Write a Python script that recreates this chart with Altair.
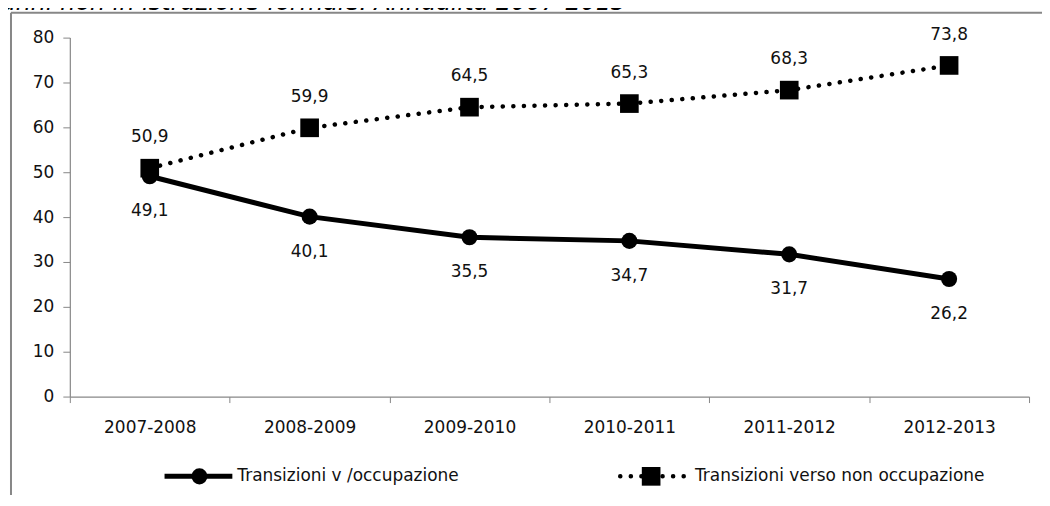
import altair as alt
import pandas as pd

periods = ["2007-2008", "2008-2009", "2009-2010", "2010-2011", "2011-2012", "2012-2013"]
occ = [49.1, 40.1, 35.5, 34.7, 31.7, 26.2]
occ_labels = ["49,1", "40,1", "35,5", "34,7", "31,7", "26,2"]
non_occ = [50.9, 59.9, 64.5, 65.3, 68.3, 73.8]
non_occ_labels = ["50,9", "59,9", "64,5", "65,3", "68,3", "73,8"]
series_names = ["Transizioni v /occupazione", "Transizioni verso non occupazione"]
title_text = ["anni non in istruzione formale. Annualità 2007-2013"]
y_ticks = [0, 10, 20, 30, 40, 50, 60, 70, 80]

FONT = "DejaVu Sans"
FS = 17
GRAY = "#878787"
TXT = "#111111"

df_occ = pd.DataFrame({"period": periods, "value": occ, "label": occ_labels})
df_non = pd.DataFrame({"period": periods, "value": non_occ, "label": non_occ_labels})
one = pd.DataFrame({"d": [0]})

x_enc = alt.X(
    "period:N", sort=periods,
    scale=alt.Scale(type="band", paddingInner=0, paddingOuter=0),
    axis=alt.Axis(title=None, labelAngle=0, tickBand="extent", tickSize=6,
                  tickColor=GRAY, domainColor=GRAY, domainWidth=1.2, labelPadding=17,
                  labelFont=FONT, labelFontSize=FS, labelColor=TXT),
)
y_enc = alt.Y(
    "value:Q", scale=alt.Scale(domain=[0, 80], nice=False, zero=True),
    axis=alt.Axis(title=None, values=y_ticks, grid=False, tickSize=7, tickColor=GRAY,
                  domainColor=GRAY, domainWidth=1.2, labelPadding=9, labelFont=FONT,
                  labelFontSize=FS, labelColor=TXT),
)

line_occ = alt.Chart(df_occ).mark_line(color="black", strokeWidth=5).encode(x=x_enc, y=y_enc)
pts_occ = alt.Chart(df_occ).mark_point(shape="circle", filled=True, color="black", size=260, opacity=1).encode(x=x_enc, y=y_enc)
lab_occ = alt.Chart(df_occ).mark_text(dy=35, font=FONT, fontSize=FS, color=TXT).encode(x=x_enc, y=y_enc, text="label:N")

line_non = alt.Chart(df_non).mark_line(color="black", strokeWidth=4.5, strokeDash=[0.1, 10.5], strokeCap="round").encode(x=x_enc, y=y_enc)
pts_non = alt.Chart(df_non).mark_point(shape="square", filled=True, color="black", size=350, opacity=1).encode(x=x_enc, y=y_enc)
lab_non = alt.Chart(df_non).mark_text(dy=-31, font=FONT, fontSize=FS, color=TXT).encode(x=x_enc, y=y_enc, text="label:N")

# legend (manual)
LY = 440
leg1_line = alt.Chart(one).mark_rule(color="black", strokeWidth=5).encode(x=alt.value(95), x2=alt.value(163), y=alt.value(LY))
leg1_pt = alt.Chart(one).mark_point(shape="circle", filled=True, color="black", size=260, opacity=1).encode(x=alt.value(130), y=alt.value(LY))
leg1_txt = alt.Chart(pd.DataFrame({"t": [series_names[0]]})).mark_text(align="left", baseline="middle", font=FONT, fontSize=FS, color=TXT).encode(x=alt.value(168), y=alt.value(LY), text="t:N")
leg2_line = alt.Chart(one).mark_rule(color="black", strokeWidth=4.5, strokeDash=[0.1, 10.5], strokeCap="round").encode(x=alt.value(552), x2=alt.value(620), y=alt.value(LY))
leg2_pt = alt.Chart(one).mark_point(shape="square", filled=True, color="black", size=350, opacity=1).encode(x=alt.value(583), y=alt.value(LY))
leg2_txt = alt.Chart(pd.DataFrame({"t": [series_names[1]]})).mark_text(align="left", baseline="middle", font=FONT, fontSize=FS, color=TXT).encode(x=alt.value(627), y=alt.value(LY), text="t:N")

# frame and cropped title
frame_left = alt.Chart(one).mark_rule(color=GRAY, strokeWidth=2).encode(x=alt.value(-59), y=alt.value(-25), y2=alt.value(470))
frame_top = alt.Chart(one).mark_rule(color=GRAY, strokeWidth=2).encode(x=alt.value(-59), x2=alt.value(975), y=alt.value(-25))
title = alt.Chart(pd.DataFrame({"t": title_text})).mark_text(align="left", baseline="alphabetic", font=FONT, fontSize=24, fontStyle="italic", color="black").encode(x=alt.value(-69), y=alt.value(-28), text="t:N")

chart = alt.layer(
    frame_left, frame_top, title,
    line_occ, line_non, pts_occ, pts_non, lab_occ, lab_non,
    leg1_line, leg1_pt, leg1_txt, leg2_line, leg2_pt, leg2_txt,
).properties(
    width=962, height=360,
    autosize=alt.AutoSizeParams(type="none"),
    padding={"left": 62, "top": 29, "right": 13, "bottom": 98},
).configure_view(strokeWidth=0)

chart.save("out.html", embed_options={"renderer": "svg", "actions": False})
